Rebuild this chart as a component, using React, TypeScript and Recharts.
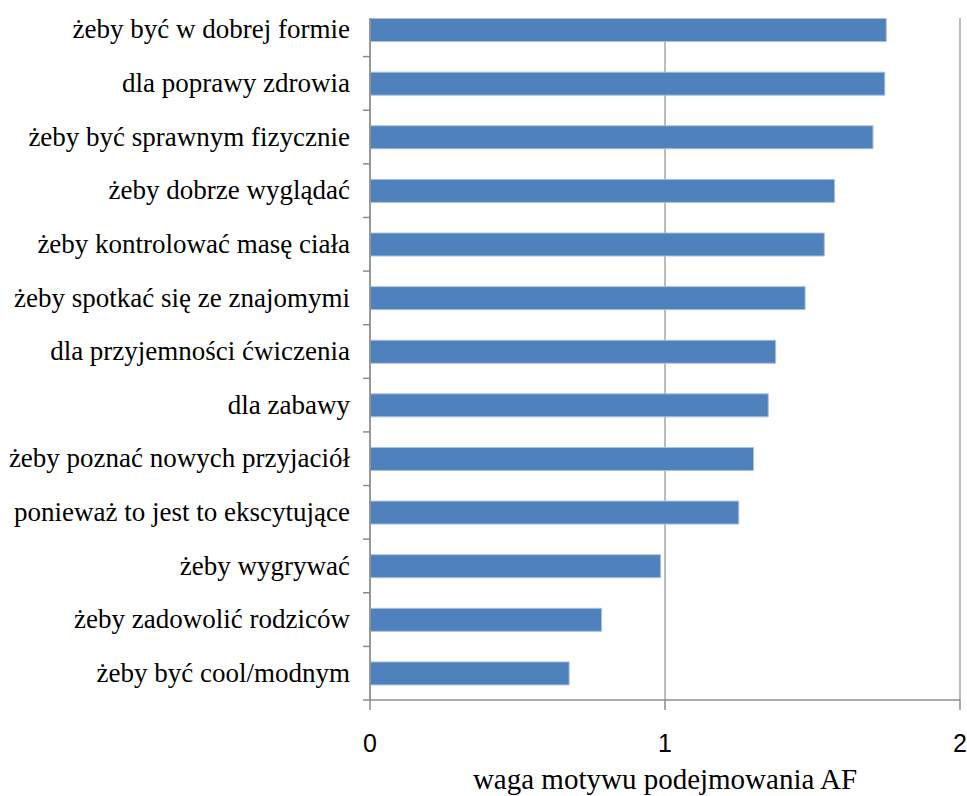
import { BarChart, Bar, XAxis, YAxis, CartesianGrid } from "recharts";

const motives = [
  "żeby być w dobrej formie",
  "dla poprawy zdrowia",
  "żeby być sprawnym fizycznie",
  "żeby dobrze wyglądać",
  "żeby kontrolować masę ciała",
  "żeby spotkać się ze znajomymi",
  "dla przyjemności ćwiczenia",
  "dla zabawy",
  "żeby poznać nowych przyjaciół",
  "ponieważ to jest to ekscytujące",
  "żeby wygrywać",
  "żeby zadowolić rodziców",
  "żeby być cool/modnym",
];

const weights = [1.75, 1.745, 1.705, 1.575, 1.54, 1.475, 1.375, 1.35, 1.3, 1.25, 0.985, 0.785, 0.675];

const xTicks = [0, 1, 2];

const data = motives.map((motive, i) => ({ motive, weight: weights[i] }));

const AXIS = "#8C8C8C";
const GRID = "#A6A6A6";
const SERIF = "'Liberation Serif', 'Times New Roman', serif";

const W = 967;
const H = 796;
const M = { top: 18, right: 7, bottom: 0, left: 0 };
const X_AXIS_H = 96;
const PAD_TOP = -15; // first bar sits above the top of the axis line, like the source
const BAND = (H - M.top - M.bottom - X_AXIS_H - PAD_TOP) / motives.length;

// label + Excel-style tick marks on the category boundaries
function MotiveTick(props: any) {
  const { x, y, payload, index } = props;
  const ax = x + 20;
  return (
    <g>
      {index > 0 && (
        <line x1={ax - 7} x2={ax} y1={y - BAND / 2} y2={y - BAND / 2} stroke={AXIS} strokeWidth={1.5} />
      )}
      {index === motives.length - 1 && (
        <line x1={ax - 7} x2={ax} y1={y + BAND / 2} y2={y + BAND / 2} stroke={AXIS} strokeWidth={1.5} />
      )}
      <text x={x} y={y} dy="0.32em" textAnchor="end" fontSize={27} fill="#000" fontFamily={SERIF}>
        {payload.value}
      </text>
    </g>
  );
}

export default function App() {
  return (
    <div style={{ position: "absolute", left: 0, top: 0, width: W, height: H, background: "#fff" }}>
      <style>{"body{margin:0;overflow:hidden}"}</style>
      <BarChart
        width={W}
        height={H}
        data={data}
        layout="vertical"
        margin={M}
        barCategoryGap="29%"
        style={{ overflow: "visible" }}
      >
        <CartesianGrid horizontal={false} stroke={GRID} strokeWidth={1.5} />
        <YAxis
          type="category"
          dataKey="motive"
          width={370}
          padding={{ top: PAD_TOP, bottom: 0 }}
          tickSize={0}
          tickMargin={20}
          tickLine={false}
          axisLine={{ stroke: AXIS, strokeWidth: 1.5 }}
          interval={0}
          tick={<MotiveTick />}
        />
        <XAxis
          type="number"
          domain={[0, 2]}
          ticks={xTicks}
          height={X_AXIS_H}
          tickSize={10}
          tickMargin={24}
          axisLine={{ stroke: AXIS, strokeWidth: 1.5 }}
          tickLine={{ stroke: AXIS, strokeWidth: 1.5 }}
          tick={{ fontSize: 25, fill: "#000", fontFamily: "'Liberation Sans', Arial, sans-serif" }}
          label={{
            value: "waga motywu podejmowania AF",
            position: "insideBottom",
            offset: 7,
            fontSize: 29,
            fill: "#000",
            fontFamily: SERIF,
          }}
        />
        <Bar
          dataKey="weight"
          fill="#4F81BD"
          stroke="#A9C0E0"
          strokeWidth={1}
          isAnimationActive={false}
        />
      </BarChart>
    </div>
  );
}
